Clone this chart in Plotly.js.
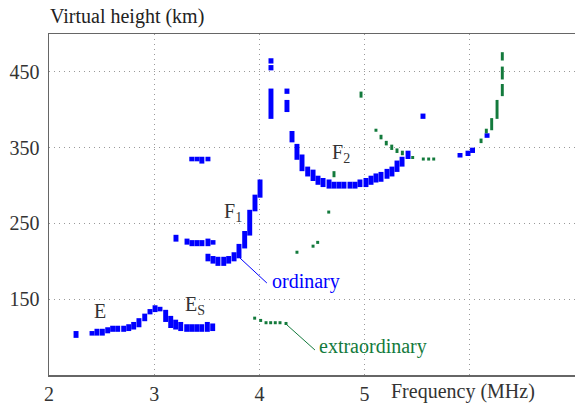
<!DOCTYPE html>
<html>
<head>
<meta charset="utf-8">
<script src="https://cdn.plot.ly/plotly-3.0.1.min.js"></script>
<style>html,body{margin:0;padding:0;background:#fff;}#chart{width:575px;height:405px;}</style>
</head>
<body>
<div id="chart"></div>
<script>
// Ordinary trace: frequency (MHz), lower and upper virtual height (km)
var ordFreq = [2.257,2.409,2.456,2.507,2.558,2.605,2.653,2.710,2.758,2.805,2.855,2.910,2.960,3.008,3.055,3.109,3.157,3.204,3.252,3.309,3.356,3.404,3.452,3.505,3.556,
  3.357,3.407,3.453,3.511,
  3.207,3.312,3.359,3.407,3.454,3.511,3.559,
  3.511,3.559,3.606,3.661,3.708,3.759,3.806,3.860,3.908,3.958,4.006,
  4.110,4.110,4.110,4.262,4.262,4.310,4.357,4.405,4.459,4.510,4.557,4.605,4.662,4.709,4.757,4.804,4.861,4.909,4.956,5.013,5.061,5.108,5.156,5.213,5.260,5.308,5.356,5.413,
  5.555,5.907,5.983,6.026,6.164];
var ordLow = [99,102,102,102,105,107,107,107,108,110,113,121,130,133,134,120,112,110,108,107,107,107,107,107,108,
  332,332,329,332,
  226,222,220,220,220,220,222,
  200,197,194,194,197,200,204,217,234,266,284,
  461,452,388,421,397,357,334,319,312,306,301,298,296,296,296,296,296,296,298,298,301,304,305,309,312,318,325,335,
  388,337,339,343,363];
var ordHigh = [108,108,111,111,113,115,115,115,117,120,125,131,137,142,140,136,128,123,120,117,117,117,117,120,118,
  338,338,338,338,
  235,230,228,228,228,230,228,
  210,207,206,206,207,212,223,240,268,288,308,
  468,459,428,428,413,372,355,341,325,321,313,310,308,305,305,305,305,305,308,310,313,316,318,322,325,333,338,346,
  395,343,346,350,369];

// Extraordinary trace
var extFreq = [3.955,4.012,4.063,4.107,4.151,4.196,4.253,
  4.357,4.510,4.554,4.659,4.709,4.966,
  5.108,5.156,5.206,5.258,5.308,5.359,5.457,5.558,5.609,5.657,
  6.107,6.157,6.208,6.259,6.309,6.309,6.309];
var extLow = [123,120,117,117,117,117,116,
  210,218,223,263,311,416,
  371,361,353,347,343,340,335,333,333,333,
  356,369,373,388,418,440,465];
var extHigh = [127,124,121,121,121,121,120,
  214,222,227,267,319,424,
  375,367,359,354,349,346,339,337,337,337,
  362,375,389,413,434,457,476];

var xTickVals = [2,3,4,5,6,7];
var xTickText = ['2','3','4','5','','7'];
var yTickVals = [150,250,350,450];

function diff(a,b){return a.map(function(v,i){return b[i]-v;});}

var serif = 'Liberation Serif';
var blue = '#0000ff';
var green = '#137a3c';

var traces = [
  {type:'bar', x:ordFreq, base:ordLow, y:diff(ordLow,ordHigh), width:0.047,
   marker:{color:blue, line:{width:0}}, hoverinfo:'skip'},
  {type:'bar', x:extFreq, base:extLow, y:diff(extLow,extHigh), width:0.028,
   marker:{color:green, line:{width:0}}, hoverinfo:'skip'}
];

var layout = {
  width:575, height:405,
  margin:{l:49, r:0, t:34, b:30},
  paper_bgcolor:'#fff', plot_bgcolor:'#fff',
  showlegend:false, barmode:'overlay', hovermode:false,
  font:{family:serif, size:20, color:'#333'},
  title:{text:'Virtual height (km)', font:{family:serif, size:20, color:'#222'},
    xref:'container', x:50/575, xanchor:'left', yref:'container', y:1-16/405, yanchor:'middle'},
  xaxis:{range:[2,7], tickvals:xTickVals, ticktext:xTickText, ticks:'', showgrid:true,
    gridcolor:'#999', griddash:'1px,4px', gridwidth:1, zeroline:false,
    showline:true, linecolor:'#666', linewidth:1.5, mirror:true,
    tickfont:{family:serif, size:20, color:'#333'}, fixedrange:true},
  yaxis:{range:[50,500], tickvals:yTickVals, ticks:'', showgrid:true,
    gridcolor:'#999', griddash:'1px,4px', gridwidth:1, zeroline:false,
    showline:true, linecolor:'#666', linewidth:1.5, mirror:false,
    ticklabelstandoff:4,
    tickfont:{family:serif, size:20, color:'#333'}, fixedrange:true},
  annotations:[
    {text:'Frequency (MHz)', xref:'x', x:5.933, yref:'paper', y:-16/341, xanchor:'center', yanchor:'middle', showarrow:false, font:{family:serif,size:20,color:'#333'}},
    {text:'E', xref:'x', x:2.484, yref:'y', y:134, xanchor:'center', yanchor:'middle', showarrow:false, font:{family:serif,size:20,color:'#333'}},
    {text:'E<sub>S</sub>', xref:'x', x:3.27, yref:'y', y:142, xanchor:'left', yanchor:'middle', showarrow:false, font:{family:serif,size:20,color:'#333'}},
    {text:'F<sub>1</sub>', xref:'x', x:3.64, yref:'y', y:264, xanchor:'left', yanchor:'middle', showarrow:false, font:{family:serif,size:20,color:'#333'}},
    {text:'F<sub>2</sub>', xref:'x', x:4.675, yref:'y', y:342, xanchor:'left', yanchor:'middle', showarrow:false, font:{family:serif,size:20,color:'#333'}},
    {text:'ordinary', xref:'x', x:4.105, yref:'y', y:173, xanchor:'left', yanchor:'middle', showarrow:false, font:{family:serif,size:20,color:blue}},
    {text:'extraordinary', xref:'x', x:4.552, yref:'y', y:88, xanchor:'left', yanchor:'middle', showarrow:false, font:{family:serif,size:20,color:green}}
  ],
  shapes:[
    {type:'line', xref:'x', yref:'y', x0:3.815, y0:204.4, x1:4.071, y1:171.4, line:{color:blue, width:1}},
    {type:'line', xref:'x', yref:'y', x0:4.252, y0:117.3, x1:4.528, y1:83, line:{color:green, width:1}}
  ]
};

Plotly.newPlot('chart', traces, layout, {staticPlot:true, displayModeBar:false});
</script>
</body>
</html>
